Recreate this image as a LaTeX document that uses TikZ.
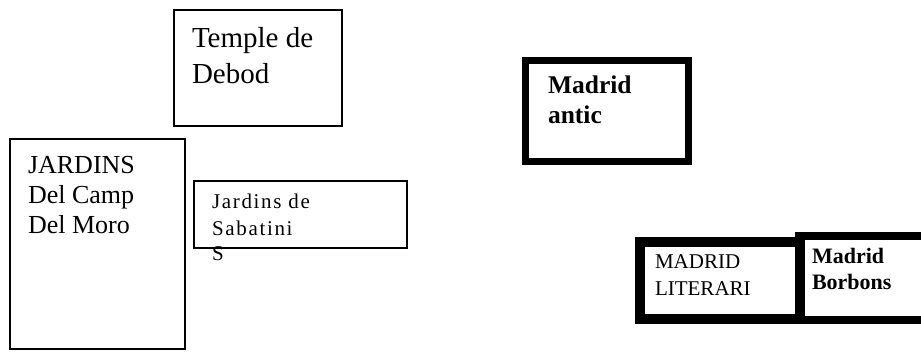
\documentclass[tikz,border=0pt]{standalone}
\usepackage{fontspec}
\setmainfont{Liberation Serif}
\newfontfamily\spacedserif[LetterSpace=8]{Liberation Serif}
\begin{document}
\begin{tikzpicture}[x=1pt,y=-1pt,
  thinbox/.style={draw=black,fill=white,line width=2},
  heavybox/.style={draw=black,fill=white},
  txt/.style={anchor=base west,inner sep=0,outer sep=0,text=black}]
\useasboundingbox (0,0) rectangle (921,351);
\fill[white] (0,0) rectangle (921,351);
% boxes
\draw[thinbox] (174,10) rectangle (342,126);
\node[coordinate] (temple) at (258,68) {};
\draw[thinbox] (10,139) rectangle (185,349);
\node[coordinate] (jardins) at (97,244) {};
\draw[thinbox] (194,181) rectangle (407,248);
\node[coordinate] (sabatini) at (300,214) {};
\draw[heavybox,line width=7] (525.5,60.5) rectangle (688.5,161.5);
\node[coordinate] (antic) at (607,111) {};
\draw[heavybox,line width=8] (799,236) rectangle (930,320);
\node[coordinate] (borbons) at (860,278) {};
\draw[heavybox,line width=10] (640,242) rectangle (800,319);
\node[coordinate] (literari) at (720,280) {};
% texts
\node[txt,font=\fontsize{29}{29}\selectfont] (t1) at (192,47) {Temple de};
\node[txt,font=\fontsize{29}{29}\selectfont] (t2) at (192,83) {Debod};
\node[txt,font=\fontsize{26}{26}\selectfont] (j1) at (28,173) {JARDINS};
\node[txt,font=\fontsize{26}{26}\selectfont] (j2) at (28,203) {Del Camp};
\node[txt,font=\fontsize{26}{26}\selectfont] (j3) at (28,233) {Del Moro};
\node[txt,font=\spacedserif\fontsize{21}{21}\selectfont] (s1) at (212,208) {Jardins de};
\node[txt,font=\spacedserif\fontsize{21}{21}\selectfont] (s2) at (212,235) {Sabatini};
\node[txt,font=\spacedserif\fontsize{21}{21}\selectfont] (s3) at (212,260) {S};
\node[txt,font=\bfseries\fontsize{25.5}{25.5}\selectfont] (a1) at (548,93) {Madrid};
\node[txt,font=\bfseries\fontsize{25.5}{25.5}\selectfont] (a2) at (548,123) {antic};
\node[txt,font=\fontsize{21}{21}\selectfont] (l1) at (655,268) {MADRID};
\node[txt,font=\fontsize{21}{21}\selectfont] (l2) at (655,295) {LITERARI};
\node[txt,font=\bfseries\fontsize{22}{22}\selectfont] (b1) at (812,263) {Madrid};
\node[txt,font=\bfseries\fontsize{22}{22}\selectfont] (b2) at (812,289) {Borbons};
\end{tikzpicture}
\end{document}
